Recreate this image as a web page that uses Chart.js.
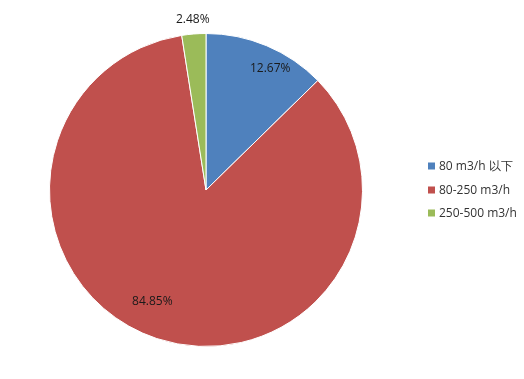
<!DOCTYPE html>
<html><head><meta charset="utf-8">
<script src="https://cdn.jsdelivr.net/npm/chart.js@4"></script>
<style>html,body{margin:0;padding:0;background:#fff;}#wrap{width:524px;height:379px;}</style>
</head><body><div id="wrap"><canvas id="c" width="524" height="379"></canvas></div>
<script>
const categories = ['80 m3/h 以下', '80-250 m3/h', '250-500 m3/h'];
const values = [12.67, 84.85, 2.48];
const labels = ['12.67%', '84.85%', '2.48%'];
const colors = ['#4F81BD', '#C0504D', '#9BBB59'];

const labelPlugin = {
  id: 'labels',
  afterDatasetsDraw(chart) {
    const ctx = chart.ctx;
    const meta = chart.getDatasetMeta(0);
    ctx.save();
    ctx.font = '12px "Open Sans", "Liberation Sans", Arial, sans-serif';
    ctx.fillStyle = '#1a1a1a';
    ctx.textAlign = 'center';
    ctx.textBaseline = 'middle';
    const pos = [[0.88, 5], [0.79, 7.4], [1.09, 0]];
    meta.data.forEach((arc, i) => {
      const mid = (arc.startAngle + arc.endAngle) / 2 + pos[i][1] * Math.PI / 180;
      const r = arc.outerRadius * pos[i][0];
      const x = arc.x + Math.cos(mid) * r;
      const y = arc.y + Math.sin(mid) * r;
      ctx.fillText(labels[i], x, y);
    });
    // legend
    ctx.textAlign = 'left';
    const ys = [166, 190, 213];
    categories.forEach((c, i) => {
      ctx.fillStyle = colors[i];
      ctx.fillRect(428, ys[i] - 3.5, 7, 7);
      ctx.fillStyle = '#333';
      ctx.fillText(c, 439, ys[i] + 0.5);
    });
    ctx.restore();
  }
};

new Chart(document.getElementById('c'), {
  type: 'pie',
  data: { labels: categories, datasets: [{ data: values, backgroundColor: colors, borderColor: '#ffffff', borderWidth: 1 }] },
  options: {
    responsive: false, animation: false,
    layout: { padding: { left: 49, right: 161, top: 33, bottom: 32 } },
    plugins: { legend: { display: false }, tooltip: { enabled: false } }
  },
  plugins: [labelPlugin]
});
</script></body></html>
